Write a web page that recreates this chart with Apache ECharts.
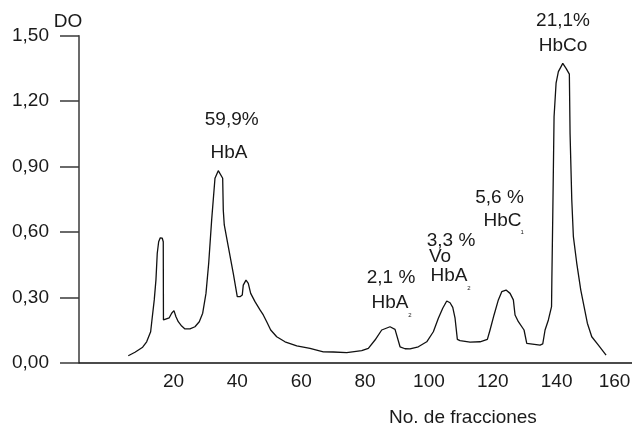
<!DOCTYPE html>
<html>
<head>
<meta charset="utf-8">
<script src="https://cdn.jsdelivr.net/npm/echarts@6/dist/echarts.min.js"></script>
<style>html,body{margin:0;padding:0;background:#fff}#c{width:632px;height:431px}</style>
</head>
<body>
<div id="c"></div>
<script>
// fraction number (x) and optical density DO (y)
var fractions = [5.83,7.93,10.34,11.59,12.84,13.25,13.97,14.50,14.91,15.35,15.85,16.48,16.79,16.85,17.33,18.67,19.42,20.14,20.77,21.49,22.56,23.59,25.16,26.72,28.07,29.14,30.17,31.02,31.95,32.99,34.02,35.40,35.59,35.90,37.16,38.72,39.97,40.82,41.54,41.85,42.70,43.42,44.17,45.52,47.09,48.12,49.19,50.44,52.32,54.92,58.60,62.75,66.92,70.05,74.25,78.95,81.02,83.11,85.21,87.81,89.38,90.95,92.51,94.08,96.68,99.31,101.38,102.95,104.32,105.58,106.61,107.46,108.18,108.90,109.74,112.88,116.01,118.30,119.14,120.39,121.74,122.81,124.15,125.41,126.44,126.97,128.01,129.79,130.64,131.14,134.81,135.65,136.37,137.41,138.40,138.50,138.78,139.19,139.82,140.54,141.92,142.95,143.98,144.20,144.74,145.24,146.30,147.56,148.59,149.62,151.00,153.07,155.48];
var density = [0.032,0.048,0.071,0.096,0.142,0.196,0.288,0.380,0.502,0.555,0.573,0.571,0.555,0.196,0.191,0.206,0.227,0.239,0.211,0.188,0.168,0.155,0.155,0.165,0.188,0.227,0.318,0.456,0.655,0.846,0.881,0.846,0.700,0.632,0.532,0.410,0.303,0.303,0.311,0.356,0.379,0.364,0.318,0.280,0.242,0.219,0.188,0.150,0.119,0.096,0.077,0.066,0.050,0.049,0.046,0.055,0.066,0.104,0.150,0.165,0.153,0.073,0.064,0.063,0.073,0.096,0.142,0.204,0.250,0.283,0.275,0.254,0.204,0.107,0.101,0.094,0.096,0.107,0.150,0.219,0.288,0.326,0.333,0.318,0.288,0.219,0.188,0.150,0.089,0.081,0.081,0.086,0.150,0.196,0.257,0.379,0.670,1.128,1.282,1.335,1.373,1.350,1.324,1.052,0.746,0.578,0.456,0.333,0.257,0.181,0.119,0.081,0.035];
var xTickValues = [20,40,60,80,100,120,140,160];
var yTickValues = [0,0.3,0.6,0.9,1.2,1.5];
// peak annotations: text, anchor fraction, anchor DO, small (subscript)
var noteTexts = ['59,9%','HbA','2,1 %','HbA','2','3,3 %','Vo','HbA','2','5,6 %','HbC','1','21,1%','HbCo'];
var noteX = [38.22,37.37,88.13,87.81,94.08,106.92,103.48,106.30,112.50,122.12,123.06,129.17,142.0,142.0];
var noteY = [1.113,0.962,0.391,0.276,0.219,0.561,0.486,0.400,0.343,0.758,0.652,0.596,1.567,1.453];
var noteSmall = [0,0,0,0,1,0,0,0,1,0,0,1,0,0];

var FONT = "'Liberation Sans',Arial,sans-serif";
var FS = 19;
var TXT = '#1a1a1a';

var curve = fractions.map(function(x,i){return [x, density[i]];});
var notes = noteTexts.map(function(t,i){
  return {value:[noteX[i], noteY[i]], label:{formatter:t, fontSize: noteSmall[i] ? 6 : FS}};
});
var lastTick = xTickValues[xTickValues.length-1];

var chart = echarts.init(document.getElementById('c'), null, {renderer:'canvas'});
chart.setOption({
  animation:false,
  backgroundColor:'#fff',
  grid:{left:79, right:0, top:35.7, bottom:68.3, outerBoundsMode:'none', containLabel:false},
  title:{text:'No. de fracciones', left:389, top:408, padding:0,
    textStyle:{fontFamily:FONT, fontSize:FS, fontWeight:'normal', color:TXT}},
  xAxis:{type:'value', min:-9.6, max:163.6,
    axisLine:{show:true, onZero:true, lineStyle:{color:'#111', width:1.5}},
    axisTick:{show:false},
    splitLine:{show:false},
    axisLabel:{show:true, customValues:xTickValues, margin:10, fontFamily:FONT, fontSize:FS, color:TXT,
      formatter:function(v){return v === lastTick ? '{r|' + v + '}' : String(v);},
      rich:{r:{fontFamily:FONT, fontSize:FS, color:TXT, padding:[0,12,0,0]}}}
  },
  yAxis:{type:'value', min:0, max:1.5, interval:0.3,
    name:'DO', nameLocation:'end', nameGap:14, nameMoveOverlap:false,
    nameTextStyle:{fontFamily:FONT, fontSize:FS, color:TXT, align:'center', verticalAlign:'middle', padding:[0,22,0,0]},
    axisLine:{show:true, onZero:false, lineStyle:{color:'#3a3a3a', width:1.5}},
    axisTick:{show:true, inside:false, length:19, lineStyle:{color:'#3a3a3a', width:1.5}},
    splitLine:{show:false},
    axisLabel:{margin:30, fontFamily:FONT, fontSize:FS, color:TXT,
      formatter:function(v){return v.toFixed(2).replace('.',',');}}
  },
  series:[
    {type:'line', data:curve, showSymbol:false, symbol:'none', smooth:false,
      lineStyle:{color:'#111', width:1.3}, z:3},
    {type:'scatter', data:notes, symbolSize:0, clip:false, silent:true,
      itemStyle:{opacity:1},
      label:{show:true, position:'inside', fontFamily:FONT, color:TXT, opacity:1, textBorderWidth:0}, z:4}
  ]
});
</script>
</body>
</html>
